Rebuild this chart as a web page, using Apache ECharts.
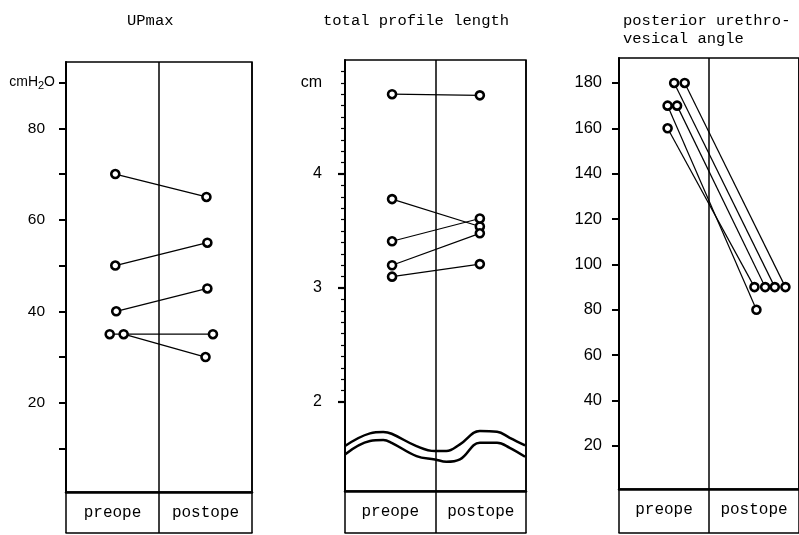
<!DOCTYPE html>
<html>
<head>
<meta charset="utf-8">
<script src="https://cdn.jsdelivr.net/npm/echarts@6/dist/echarts.min.js"></script>
<style>html,body{margin:0;padding:0;background:#fff}#c{width:799px;height:535px}</style>
</head>
<body>
<div id="c"></div>
<script>
// ---------- data ----------
const phases = ['preope', 'postope'];
const titles = ['UPmax', 'total profile length', 'posterior urethro-\nvesical angle'];

// UPmax (cmH2O)
const upPreX  = [0.53, 0.53, 0.54, 0.47, 0.62];
const upPre   = [70, 50, 40, 35, 35];
const upPostX = [1.51, 1.52, 1.52, 1.58, 1.50];
const upPost  = [65, 55, 45, 35, 30];
const upTicks = [10, 20, 30, 40, 50, 60, 70, 80, 90];
const upLabels = [20, 40, 60, 80, 90];   // 90 carries the unit label

// total profile length (cm)
const tplPreX  = [0.52, 0.52, 0.52, 0.52, 0.52];
const tplPre   = [4.70, 3.78, 3.41, 3.20, 3.10];
const tplPostX = [1.49, 1.49, 1.49, 1.49, 1.49];
const tplPost  = [4.69, 3.54, 3.61, 3.48, 3.21];
const tplMajor = [2, 3, 4];
const tplLabels = [2, 3, 4, 4.8];        // 4.8 carries the unit label
const tplMinor = [2.1,2.2,2.3,2.4,2.5,2.6,2.7,2.8,2.9,3.1,3.2,3.3,3.4,3.5,3.6,3.7,3.8,3.9,4.1,4.2,4.3,4.4,4.5,4.6,4.7,4.8,4.9];
// axis-break wave (two wavy lines)
const waveX     = [0, 0.276, 0.423, 0.515, 0.79, 0.994, 1.12, 1.27, 1.49, 1.68, 1.82, 1.99];
const waveUpper = [1.614, 1.725, 1.737, 1.722, 1.614, 1.570, 1.570, 1.629, 1.746, 1.740, 1.687, 1.620];
const waveLower = [1.541, 1.658, 1.667, 1.643, 1.526, 1.497, 1.476, 1.497, 1.643, 1.643, 1.599, 1.520];

// posterior urethrovesical angle (deg)
const angPreX  = [0.54, 0.54, 0.645, 0.613, 0.73];
const angPre   = [160, 170, 170, 180, 180];
const angPostX = [1.505, 1.527, 1.624, 1.731, 1.849];
const angPost  = [90, 80, 90, 90, 90];
const angTicks = [20, 40, 60, 80, 100, 120, 140, 160, 180];

// ---------- layout ----------
const MONO = 'Liberation Mono';
const SANS = 'Liberation Sans';
const panels = [
  {left: 66,  top: 62, width: 186, height: 430, min: 0.5,  max: 94.5, box: 41, margin: 11},
  {left: 345, top: 60, width: 181, height: 431, min: 1.22, max: 5.0,  box: 42, margin: 23},
  {left: 619, top: 58, width: 186, height: 431, min: 1,    max: 191,  box: 44, margin: 17}
];
const titlePos = [[127, 12], [323, 12], [623, 12]];

const grid = [], xAxis = [], yAxis = [], series = [], title = [];

panels.forEach((p, i) => {
  grid.push({left: p.left, top: p.top, width: p.width, height: p.height,
    show: true, borderColor: '#000', borderWidth: 1.5, backgroundColor: 'transparent'});
  title.push({text: titles[i], left: titlePos[i][0], top: titlePos[i][1], padding: 0,
    textStyle: {fontFamily: MONO, fontSize: 15.5, fontWeight: 'normal', color: '#000', lineHeight: 18}});
  xAxis.push({type: 'category', gridIndex: i, data: phases, position: 'bottom', boundaryGap: true,
    axisLine: {show: true, onZero: false, lineStyle: {color: '#000', width: 2.5}},
    axisTick: {show: true, interval: 0, length: p.box, lineStyle: {color: '#000', width: 1.5}},
    axisLabel: {interval: 0, margin: 13, fontFamily: MONO, fontSize: 16, color: '#000'},
    splitLine: {show: true, interval: 0, lineStyle: {color: '#000', width: 1.5}}});
  xAxis.push({type: 'value', gridIndex: i, min: 0, max: 2, position: 'bottom', offset: p.box,
    axisLine: {show: true, onZero: false, lineStyle: {color: '#000', width: 1.5}},
    axisTick: {show: false}, axisLabel: {show: false}, splitLine: {show: false}});
});

const numRich = {
  n: {fontFamily: SANS, fontSize: 15.5, color: '#000', padding: [0, 10, 0, 0]},
  a: {fontFamily: SANS, fontSize: 14, color: '#000'},
  s: {fontFamily: SANS, fontSize: 11, color: '#000', padding: [7, 0, 0, 0]}
};

yAxis.push({type: 'value', gridIndex: 0, min: panels[0].min, max: panels[0].max, position: 'left',
  axisLine: {show: true, onZero: false, lineStyle: {color: '#000', width: 2}},
  axisTick: {show: true, customValues: upTicks, length: 7, lineStyle: {color: '#000', width: 2}},
  axisLabel: {customValues: upLabels, margin: panels[0].margin, rich: numRich,
    formatter: v => v === 90 ? '{a|cmH}{s|2}{a|O}' : '{n|' + v + '}'},
  splitLine: {show: false}});
yAxis.push({type: 'value', gridIndex: 1, min: panels[1].min, max: panels[1].max, position: 'left',
  axisLine: {show: true, onZero: false, lineStyle: {color: '#000', width: 2}},
  axisTick: {show: true, customValues: tplMajor, length: 7, lineStyle: {color: '#000', width: 2.2}},
  axisLabel: {customValues: tplLabels, margin: panels[1].margin, fontFamily: SANS, fontSize: 16, color: '#000',
    formatter: v => Math.abs(v - 4.8) < 1e-6 ? 'cm' : String(v)},
  splitLine: {show: false}});
yAxis.push({type: 'value', gridIndex: 1, min: panels[1].min, max: panels[1].max, position: 'left',
  axisLine: {show: false, onZero: false},
  axisTick: {show: true, customValues: tplMinor, length: 4, lineStyle: {color: '#000', width: 1.2}},
  axisLabel: {show: false}, splitLine: {show: false}});
yAxis.push({type: 'value', gridIndex: 2, min: panels[2].min, max: panels[2].max, position: 'left',
  axisLine: {show: true, onZero: false, lineStyle: {color: '#000', width: 2}},
  axisTick: {show: true, customValues: angTicks, length: 7, lineStyle: {color: '#000', width: 2}},
  axisLabel: {customValues: angTicks, margin: panels[2].margin, fontFamily: SANS, fontSize: 16.5, color: '#000'},
  splitLine: {show: false}});

const yIdx = [0, 1, 3];
function pairs(i, preX, pre, postX, post) {
  pre.forEach((v, k) => {
    series.push({type: 'line', xAxisIndex: i * 2 + 1, yAxisIndex: yIdx[i],
      data: [[preX[k], v], [postX[k], post[k]]],
      symbol: 'circle', symbolSize: 8, z: 5,
      itemStyle: {color: '#fff', borderColor: '#000', borderWidth: 2.6},
      lineStyle: {color: '#000', width: 1.2}, animation: false, silent: true});
  });
}
pairs(0, upPreX, upPre, upPostX, upPost);
pairs(1, tplPreX, tplPre, tplPostX, tplPost);
pairs(2, angPreX, angPre, angPostX, angPost);

[waveUpper, waveLower].forEach(w => {
  series.push({type: 'line', xAxisIndex: 3, yAxisIndex: 1, smooth: 0.4, symbol: 'none',
    data: waveX.map((x, k) => [x, w[k]]),
    lineStyle: {color: '#000', width: 2.5}, animation: false, silent: true});
});

const chart = echarts.init(document.getElementById('c'), null, {renderer: 'canvas'});
chart.setOption({backgroundColor: '#fff', animation: false, title, grid, xAxis, yAxis, series});
</script>
</body>
</html>
